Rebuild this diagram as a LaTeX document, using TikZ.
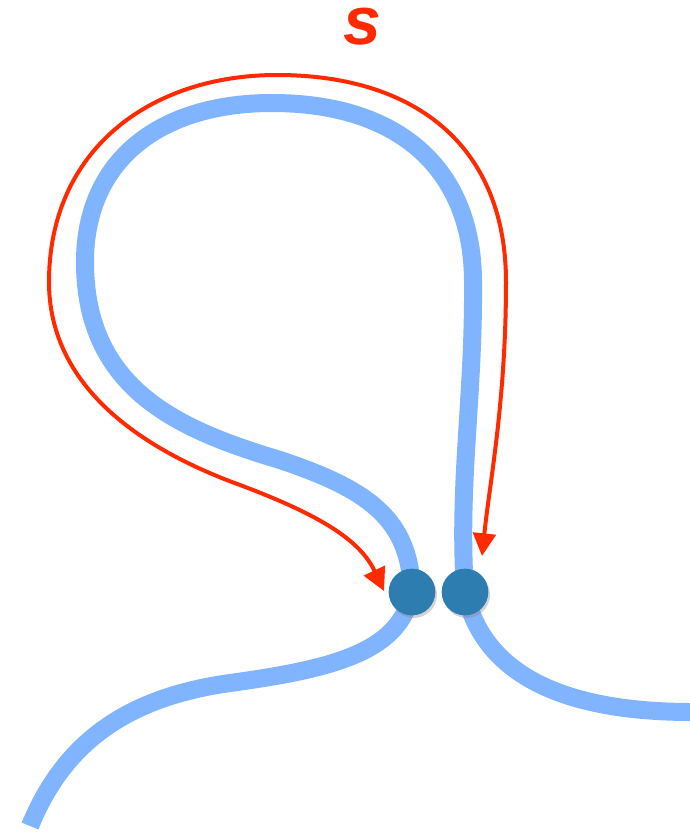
\documentclass[tikz,border=0pt]{standalone}
\usepackage{fontspec}
\newfontfamily\tagfont{Liberation Sans}
\usetikzlibrary{arrows.meta,shadows,backgrounds}
\definecolor{strandblue}{RGB}{128,180,255}
\definecolor{beadblue}{RGB}{46,125,176}
\definecolor{pathred}{RGB}{255,42,0}
\begin{document}
\begin{tikzpicture}[
    x=0.03cm, y=-0.03cm,
    strand/.style={
        draw=strandblue, line width=0.54cm
    },
    bead/.style={
        circle, fill=beadblue, minimum size=1.4cm, inner sep=0pt,
        drop shadow={shadow xshift=0.05cm, shadow yshift=-0.08cm, opacity=0.35}
    },
    looparrow/.style={
        draw=pathred, line width=0.12cm,
        {Triangle[length=0.68cm, width=0.68cm]}-{Triangle[length=0.68cm, width=0.68cm]}
    },
    tag/.style={
        font=\tagfont\bfseries\itshape\fontsize{58}{64}\selectfont, text=pathred,
        inner sep=0pt
    }
]
\useasboundingbox (0,0) rectangle (689,832);

% Beads where the strand closes
\node[bead] (ldot) at (412,592) {};
\node[bead] (rdot) at (465,592) {};

% Label
\node[tag] (s) at (362,27) {s};

% Strand (under the beads)
\begin{scope}[on background layer]
\draw[strand] (ldot.center) .. controls (410,520) and (370,490) .. (280,460)
    .. controls (180,430) and (85,390) .. (85,262)
    .. controls (85,160) and (160,103) .. (272,103)
    .. controls (400,103) and (472,170) .. (473,280)
    .. controls (474,400) and (458,480) .. (rdot.center);
\draw[strand] (ldot.center) .. controls (400,650) and (340,668) .. (230,683)
    .. controls (130,697) and (65,740) .. (30,826);
\draw[strand] (rdot.center) .. controls (480,660) and (540,712) .. (692,712);
\end{scope}

% Path around the loop
\coordinate (ltip) at (384,591);
\coordinate (rtip) at (482,556);
\draw[looparrow] (ltip) .. controls (360,540) and (320,515) .. (240,485)
    .. controls (130,445) and (49,380) .. (49,282)
    .. controls (49,150) and (150,75) .. (277,75)
    .. controls (420,75) and (506,150) .. (506,282)
    .. controls (506,400) and (490,480) .. (rtip);

\end{tikzpicture}
\end{document}
